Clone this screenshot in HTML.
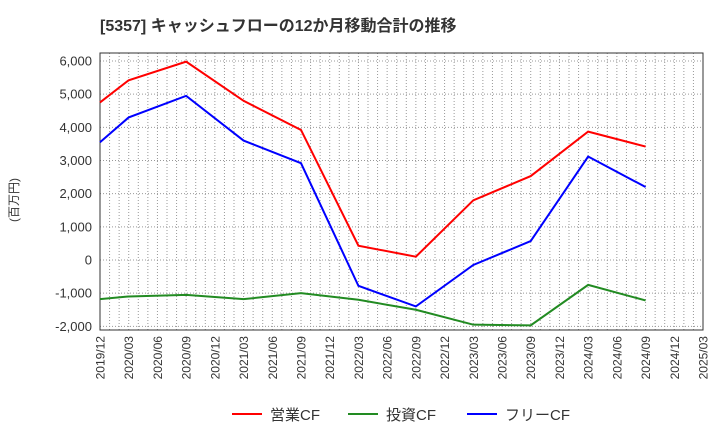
<!DOCTYPE html>
<html><head><meta charset="utf-8"><style>
body{margin:0;background:#fff;font-family:"Liberation Sans","Noto Sans CJK JP",sans-serif;}
</style></head><body>
<svg id="c" width="720" height="440" xmlns="http://www.w3.org/2000/svg" font-family="Liberation Sans, Noto Sans CJK JP, sans-serif">
<text x="100" y="31" font-size="16" font-weight="bold" fill="#333">[5357]  キャッシュフローの12か月移動合計の推移</text>
<text transform="translate(18,200) rotate(-90)" font-size="12" fill="#333" text-anchor="middle">(百万円)</text>
<g id="grid"></g><g id="axes"></g><g id="series"></g><g id="legend"></g>
</svg>
<script>
const xLabels=["2019/12","2020/03","2020/06","2020/09","2020/12","2021/03","2021/06","2021/09","2021/12","2022/03","2022/06","2022/09","2022/12","2023/03","2023/06","2023/09","2023/12","2024/03","2024/06","2024/09","2024/12","2025/03"];
const yTicks=[-2000,-1000,0,1000,2000,3000,4000,5000,6000];
const idx=[0,1,3,5,7,9,11,13,15,17,19];
const opCF=[4750,5420,5980,4800,3920,430,100,1800,2530,3870,3420];
const invCF=[-1180,-1100,-1050,-1180,-1000,-1200,-1500,-1950,-1970,-750,-1220];
const freeCF=[3550,4300,4950,3600,2920,-780,-1400,-150,570,3120,2200];
const seriesNames=["営業CF","投資CF","フリーCF"];
const L=100,R=703,T=53,B=330;
const xs=q=>L+(R-L)*q/21;
const ys=v=>260-v*199/6000;
const NS="http://www.w3.org/2000/svg";
function mk(p,t,a){const e=document.createElementNS(NS,t);for(const k in a)e.setAttribute(k,a[k]);document.getElementById(p).appendChild(e);return e;}
for(let m=1;m<63;m++){const x=L+(R-L)*m/63;const e=mk("grid","line",{x1:x,x2:x,y1:T,y2:B,stroke:"#999","stroke-dasharray":"1,2","stroke-width":1});

}
yTicks.forEach(v=>{const y=ys(v);const e=mk("grid","line",{x1:L,x2:R,y1:y,y2:y,stroke:"#999","stroke-dasharray":"1,2","stroke-width":1});


const t=mk("axes","text",{x:L-8,y:y+4.5,"font-size":13,fill:"#333","text-anchor":"end"});t.textContent=v.toLocaleString("en-US");

});
const fr=mk("axes","rect",{x:L,y:T,width:R-L,height:B-T,fill:"none",stroke:"#333","stroke-width":1});


xLabels.forEach((s,i)=>{const x=xs(i);const t=mk("axes","text",{transform:`translate(${x+4.5},${B+6}) rotate(-90)`,"font-size":12,fill:"#333","text-anchor":"end"});t.textContent=s;

});
const cols=["#ff0000","#228b22","#0000ff"];
[opCF,invCF,freeCF].forEach((d,k)=>{const p=mk("series","polyline",{points:d.map((v,i)=>xs(idx[i])+","+ys(v)).join(" "),fill:"none",stroke:cols[k],"stroke-width":2});


const lx=[232,348,467][k];
const ll=mk("legend","line",{x1:lx,x2:lx+30,y1:414,y2:414,stroke:cols[k],"stroke-width":2});


const lt=mk("legend","text",{x:lx+38,y:420,"font-size":15,fill:"#333"});lt.textContent=seriesNames[k];

});
</script>
</body></html>
